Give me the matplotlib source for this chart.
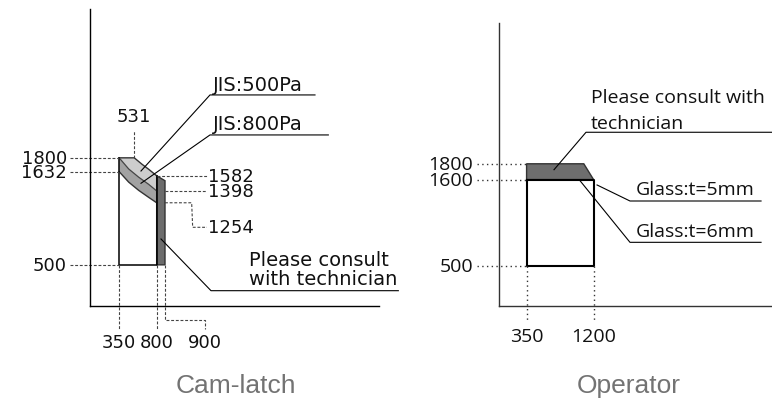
import matplotlib
matplotlib.use("Agg")
import matplotlib.pyplot as plt

# ---- Cam-latch panel (mm) ----
cam_top_x = [350, 531, 624, 704, 800]
cam_top_y = [1800, 1800, 1722, 1661, 1582]
cam_mid_x = [350, 464, 584, 704, 800]
cam_mid_y = [1800, 1665, 1565, 1478, 1398]
cam_low_x = [350, 464, 584, 704, 800]
cam_low_y = [1632, 1505, 1405, 1320, 1254]
cam_bar_x = [800, 900]
cam_bar_top = [1582, 1522]
cam_base = 500
cam_yticks = [1800, 1632, 500]
cam_right_labels = [1582, 1398, 1254]

# ---- Operator panel (mm) ----
op_box_x = [350, 1200]
op_box_y = [500, 1600]
op_top_x = [350, 1076, 1200]
op_top_y = [1800, 1800, 1600]
op_yticks = [1800, 1600, 500]
op_xticks = [350, 1200]

W, H = 772, 402
fig = plt.figure(figsize=(W / 100, H / 100), dpi=100)


def make_axes(x0, x1, y_top, y_bot, xmax, ymax):
    ax = fig.add_axes([x0 / W, 1 - y_bot / H, (x1 - x0) / W, (y_bot - y_top) / H])
    ax.set_xlim(0, xmax)
    ax.set_ylim(0, ymax)
    for s in ["top", "right"]:
        ax.spines[s].set_visible(False)
    ax.set_xticks([])
    ax.set_yticks([])
    ax.patch.set_alpha(0)
    return ax


dash = dict(color="#444444", lw=0.8, ls=(0, (2.6, 1.6)), clip_on=False)
lead = dict(color="black", lw=0.8, clip_on=False)
fnt_l = dict(family="DejaVu Sans", fontsize=13, color="#111111")
fnt_w = dict(family="DejaVu Sans", fontsize=14, color="#111111")

# ================= Cam-latch =================
ax = make_axes(90, 379, 10, 307, 3468, 3608)
for s in ["left", "bottom"]:
    ax.spines[s].set_linewidth(1.0)

# light band (JIS:500Pa)
ax.fill(cam_top_x + cam_mid_x[::-1], cam_top_y + cam_mid_y[::-1],
        color="#cdcdcd", lw=0)
# medium band (JIS:800Pa)
ax.fill(cam_mid_x + cam_low_x[::-1], cam_mid_y + cam_low_y[::-1],
        color="#a2a2a2", lw=0)
# dark bar
ax.fill([cam_bar_x[0], cam_bar_x[1], cam_bar_x[1], cam_bar_x[0]],
        [cam_base, cam_base, cam_bar_top[1], cam_bar_top[0]],
        color="#6c6c6c", ec="#333333", lw=1.0)

ax.plot(cam_top_x, cam_top_y, color="#333333", lw=1.0)
ax.plot(cam_mid_x, cam_mid_y, color="#444444", lw=0.9)
ax.plot(cam_low_x, cam_low_y, color="#333333", lw=1.0)
ax.plot([cam_low_x[0], cam_low_x[0], cam_bar_x[0], cam_bar_x[0]],
        [cam_top_y[0], cam_base, cam_base, cam_top_y[-1]], color="black", lw=1.1)

# left tick labels
for v in cam_yticks:
    ax.plot([-240, cam_low_x[0]], [v, v], **dash)
    ax.text(-276, v, str(v), ha="right", va="center", **fnt_l)

# bottom labels
ax.plot([350, 350], [cam_base, -280], **dash)
ax.plot([800, 800], [cam_base, -280], **dash)
ax.plot([900, 900, 1380, 1380], [cam_base, -166, -166, -280], **dash)
ax.text(350, -437, "350", ha="center", va="center", **fnt_l)
ax.text(800, -437, "800", ha="center", va="center", **fnt_l)
ax.text(1380, -437, "900", ha="center", va="center", **fnt_l)

# 531 label
ax.plot([531, 531], [1800, 2139], **dash)
ax.text(531, 2309, "531", ha="center", va="center", **fnt_l)

# right labels
ax.plot([800, 1404], [cam_right_labels[0]] * 2, **dash)
ax.plot([900, 1404], [cam_right_labels[1]] * 2, **dash)
ax.plot([900, 1220, 1232, 1404], [cam_right_labels[2], cam_right_labels[2], 956, 956], **dash)
ax.text(1416, cam_right_labels[0], "1582", ha="left", va="center", **fnt_l)
ax.text(1416, cam_right_labels[1], "1398", ha="left", va="center", **fnt_l)
ax.text(1416, 956, "1254", ha="left", va="center", **fnt_l)

# leaders
ax.plot([612, 1440, 2700], [1640, 2564, 2564], **lead)
ax.text(1476, 2630, "JIS:500Pa", ha="left", va="baseline", **fnt_w)
ax.plot([612, 1440, 2860], [1491, 2078, 2078], **lead)
ax.text(1476, 2146, "JIS:800Pa", ha="left", va="baseline", **fnt_w)
ax.plot([852, 1452, 3700], [814, 186, 186], **lead)
ax.text(1908, 500, "Please consult", ha="left", va="baseline", **fnt_w)
ax.text(1908, 265, "with technician", ha="left", va="baseline", **fnt_w)

fig.text(236 / W, 1 - 386 / H, "Cam-latch", ha="center", va="center",
         family="Liberation Sans", fontsize=19, color="#737373")

# ================= Operator =================
ax2 = make_axes(499, 772, 24, 307, 3464, 3582)
for s in ["left", "bottom"]:
    ax2.spines[s].set_linewidth(1.0)
    ax2.spines[s].set_color("#333333")

fnt_r = dict(family="Open Sans", fontsize=14, color="#111111")
dot = dict(color="#333333", lw=1.0, ls=(0, (1, 2.4)), clip_on=False)

ax2.fill(op_top_x + [op_box_x[0]], op_top_y + [op_box_y[1]],
         color="#6e6e6e", ec="#333333", lw=1.0)
ax2.plot([op_box_x[0], op_box_x[0], op_box_x[1], op_box_x[1], op_box_x[0]],
         [op_box_y[1], op_box_y[0], op_box_y[0], op_box_y[1], op_box_y[1]],
         color="black", lw=1.5)

for v in op_yticks:
    ax2.plot([-280, 350], [v, v], **dot)
    ax2.text(-330, v, str(v), ha="right", va="center", **fnt_r)
for v in op_xticks:
    ax2.plot([v, v], [op_box_y[0], -203], **dot)
    ax2.text(v, -380, str(v), ha="center", va="center", **fnt_r)

ax2.plot([698, 1104, 3464], [1725, 2199, 2199], **lead)
ax2.text(1168, 2578, "Please consult with", ha="left", va="baseline", **fnt_r)
ax2.text(1168, 2249, "technician", ha="left", va="baseline", **fnt_r)
ax2.plot([1244, 1662, 3325], [1532, 1329, 1329], **lead)
ax2.text(1740, 1418, "Glass:t=5mm", ha="left", va="baseline", **fnt_r)
ax2.plot([1028, 1662, 3325], [1586, 806, 806], **lead)
ax2.text(1740, 890, "Glass:t=6mm", ha="left", va="baseline", **fnt_r)

fig.text(629 / W, 1 - 386 / H, "Operator", ha="center", va="center",
         family="Liberation Sans", fontsize=19, color="#737373")

fig.savefig("out.png", dpi=100)
